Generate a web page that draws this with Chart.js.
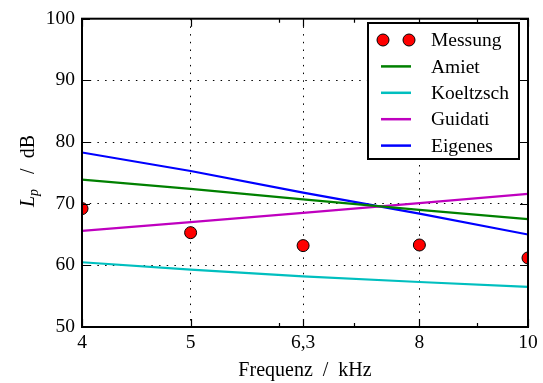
<!DOCTYPE html>
<html>
<head>
<meta charset="utf-8">
<script src="https://cdn.jsdelivr.net/npm/chart.js@4/dist/chart.umd.min.js"></script>
<style>
    html, body { margin: 0; padding: 0; background: #fff; }
</style>
</head>
<body>
<canvas id="chart" width="543" height="383"></canvas>
<script>
const frequencies = [4, 5, 6.3, 8, 10];
const tickLabels = ['4', '5', '6,3', '8', '10'];
const minorTicks = [6, 7, 9];
const yTicks = [50, 60, 70, 80, 90, 100];

const messung = [69.2, 65.3, 63.2, 63.3, 61.2];
const amiet = [73.9, 72.4, 70.7, 69.0, 67.5];
const koeltzsch = [60.5, 59.3, 58.2, 57.3, 56.5];
const guidati = [65.6, 67.0, 68.5, 70.1, 71.6];
const eigenes = [78.3, 75.3, 71.8, 68.4, 65.0];

const FONT = '"Liberation Serif", "Times New Roman", serif';

function points(values) {
    return frequencies.map((f, i) => ({ x: f, y: values[i] }));
}

function lineSet(label, values, color) {
    return {
        label: label,
        data: points(values),
        borderColor: color,
        backgroundColor: color,
        borderWidth: 2.2,
        pointRadius: 0,
        tension: 0,
        clip: 0
    };
}

// frame, inward ticks, axis titles and the boxed legend
const decorations = {
    id: 'decorations',
    afterDraw(chart) {
        const ctx = chart.ctx;
        const area = chart.chartArea;
        const x = chart.scales.x;
        const y = chart.scales.y;
        ctx.save();

        ctx.strokeStyle = '#000';
        ctx.lineWidth = 1.2;
        ctx.beginPath();
        frequencies.forEach(f => {
            const px = Math.round(x.getPixelForValue(f)) + 0.5;
            ctx.moveTo(px, area.bottom); ctx.lineTo(px, area.bottom - 8);
            ctx.moveTo(px, area.top); ctx.lineTo(px, area.top + 8);
        });
        minorTicks.forEach(f => {
            const px = Math.round(x.getPixelForValue(f)) + 0.5;
            ctx.moveTo(px, area.bottom); ctx.lineTo(px, area.bottom - 4);
            ctx.moveTo(px, area.top); ctx.lineTo(px, area.top + 4);
        });
        yTicks.forEach(v => {
            const py = Math.round(y.getPixelForValue(v)) + 0.5;
            ctx.moveTo(area.left, py); ctx.lineTo(area.left + 8, py);
            ctx.moveTo(area.right, py); ctx.lineTo(area.right - 8, py);
        });
        ctx.stroke();

        ctx.lineWidth = 2;
        ctx.strokeRect(area.left, area.top, area.right - area.left, area.bottom - area.top);

        // axis titles
        ctx.fillStyle = '#000';
        ctx.textBaseline = 'alphabetic';
        ctx.textAlign = 'center';
        ctx.font = '20px ' + FONT;
        ctx.fillText('Frequenz  /  kHz', (area.left + area.right) / 2, 376);

        ctx.save();
        ctx.translate(34, 171);
        ctx.rotate(-Math.PI / 2);
        ctx.textAlign = 'left';
        const main = 'italic 20px ' + FONT;
        const sub = 'italic 14px ' + FONT;
        const rest = '20px ' + FONT;
        ctx.font = main; const wL = ctx.measureText('L').width;
        ctx.font = sub; const wp = ctx.measureText('p').width;
        ctx.font = rest; const wr = ctx.measureText('   /  dB').width;
        let cx = -(wL + wp + wr) / 2;
        ctx.font = main; ctx.fillText('L', cx, 0); cx += wL;
        ctx.font = sub; ctx.fillText('p', cx, 4); cx += wp;
        ctx.font = rest; ctx.fillText('   /  dB', cx, 0);
        ctx.restore();

        // legend box
        const box = { left: 368, top: 23, right: 519, bottom: 159 };
        ctx.fillStyle = '#fff';
        ctx.fillRect(box.left, box.top, box.right - box.left, box.bottom - box.top);
        ctx.lineWidth = 2;
        ctx.strokeStyle = '#000';
        ctx.strokeRect(box.left, box.top, box.right - box.left, box.bottom - box.top);

        ctx.font = '19.5px ' + FONT;
        ctx.textAlign = 'left';
        ctx.textBaseline = 'middle';
        chart.data.datasets.forEach((ds, i) => {
            const ly = 40 + i * 26.4;
            if (ds.showLine === false) {
                [383, 409].forEach(cxp => {
                    ctx.beginPath();
                    ctx.arc(cxp, ly, 6, 0, Math.PI * 2);
                    ctx.fillStyle = ds.backgroundColor;
                    ctx.fill();
                    ctx.lineWidth = 1;
                    ctx.strokeStyle = ds.borderColor;
                    ctx.stroke();
                });
            } else {
                ctx.beginPath();
                ctx.moveTo(381, ly);
                ctx.lineTo(411, ly);
                ctx.lineWidth = 2.5;
                ctx.strokeStyle = ds.borderColor;
                ctx.stroke();
            }
            ctx.fillStyle = '#000';
            ctx.fillText(ds.label, 431, ly + 1);
        });

        ctx.restore();
    }
};

new Chart(document.getElementById('chart').getContext('2d'), {
    type: 'line',
    data: {
        datasets: [
            {
                label: 'Messung',
                data: points(messung),
                showLine: false,
                pointRadius: 6,
                pointHoverRadius: 6,
                backgroundColor: '#ff0000',
                borderColor: '#000',
                pointBorderWidth: 1,
                clip: 0
            },
            lineSet('Amiet', amiet, '#008000'),
            lineSet('Koeltzsch', koeltzsch, '#00bfbf'),
            lineSet('Guidati', guidati, '#bf00bf'),
            lineSet('Eigenes', eigenes, '#0000ff')
        ]
    },
    options: {
        responsive: false,
        animation: false,
        devicePixelRatio: 1,
        layout: { padding: { left: 0, top: 15, right: 15, bottom: 0 } },
        plugins: {
            legend: { display: false },
            tooltip: { enabled: false }
        },
        scales: {
            x: {
                type: 'logarithmic',
                min: 4,
                max: 10,
                afterBuildTicks: scale => {
                    scale.ticks = frequencies.map(v => ({ value: v }));
                },
                afterFit: scale => { scale.height = 56; },
                ticks: {
                    autoSkip: false,
                    maxRotation: 0,
                    padding: 4,
                    color: '#000',
                    font: { family: FONT, size: 19.5 },
                    callback: value => tickLabels[frequencies.indexOf(value)]
                },
                grid: {
                    color: '#000',
                    lineWidth: 1,
                    drawTicks: false
                },
                border: { display: false, dash: [1.5, 6.2] }
            },
            y: {
                min: 50,
                max: 100,
                afterBuildTicks: scale => {
                    scale.ticks = yTicks.map(v => ({ value: v }));
                },
                afterFit: scale => { scale.width = 82; },
                ticks: {
                    padding: 7,
                    color: '#000',
                    font: { family: FONT, size: 19.5 }
                },
                grid: {
                    color: '#000',
                    lineWidth: 1,
                    drawTicks: false
                },
                border: { display: false, dash: [1.5, 6.2] }
            }
        }
    },
    plugins: [decorations]
});
</script>
</body>
</html>
